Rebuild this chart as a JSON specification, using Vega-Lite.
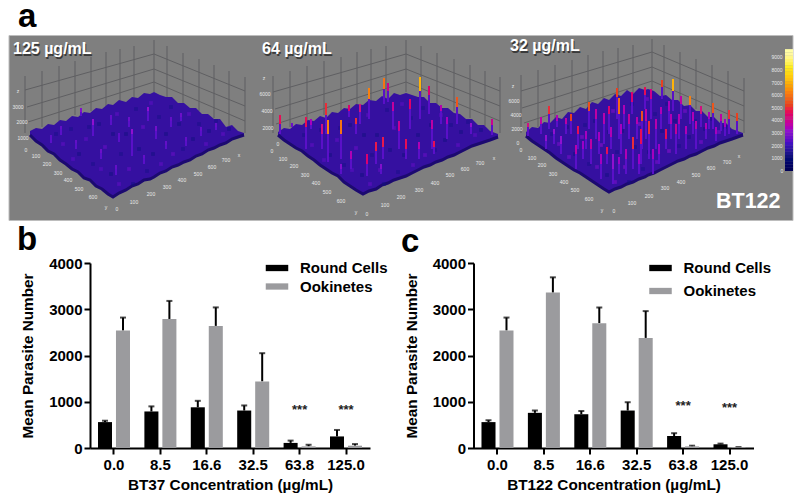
{"$schema":"https://vega.github.io/schema/vega-lite/v6.json","background":"white","padding":{"left":7.5,"top":0,"right":0,"bottom":0},"spacing":3,"bounds":"full",
"config":{"view":{"stroke":null},"font":"Liberation Sans","title":{"font":"Liberation Sans","fontWeight":"bold","fontSize":33,"anchor":"start","frame":"group","color":"black"},"axis":{"labelFont":"Liberation Sans","titleFont":"Liberation Sans","labelFontWeight":"bold","titleFontWeight":"bold","labelFontSize":15,"titleFontSize":15.3,"labelColor":"black","titleColor":"black","domainColor":"black","tickColor":"black","domainWidth":2,"tickWidth":2,"tickSize":6,"grid":false},"legend":{"labelFont":"Liberation Sans","labelFontWeight":"bold","labelFontSize":15,"labelColor":"black"}},
"datasets":{
"surface":[
{"p":1,"x":29,"t":132,"b":136},{"p":1,"x":35,"t":129,"b":142},{"p":1,"x":41,"t":130,"b":146},{"p":1,"x":47,"t":125,"b":152},{"p":1,"x":53,"t":126,"b":155},{"p":1,"x":59,"t":121,"b":161},{"p":1,"x":65,"t":122,"b":165},{"p":1,"x":71,"t":117,"b":170},{"p":1,"x":77,"t":118,"b":173},{"p":1,"x":83,"t":113,"b":179},{"p":1,"x":89,"t":114,"b":181},{"p":1,"x":95,"t":109,"b":187},{"p":1,"x":101,"t":110,"b":190},{"p":1,"x":107,"t":105,"b":195},{"p":1,"x":112,"t":106,"b":198},{"p":1,"x":118,"t":101,"b":194},{"p":1,"x":125,"t":103,"b":191},{"p":1,"x":131,"t":98,"b":187},{"p":1,"x":137,"t":99,"b":185},{"p":1,"x":143,"t":94,"b":181},{"p":1,"x":149,"t":95,"b":180},{"p":1,"x":153,"t":93,"b":178},{"p":1,"x":159,"t":96,"b":174},{"p":1,"x":165,"t":98,"b":172},{"p":1,"x":171,"t":98,"b":168},{"p":1,"x":177,"t":104,"b":166},{"p":1,"x":183,"t":104,"b":163},{"p":1,"x":189,"t":109,"b":161},{"p":1,"x":195,"t":109,"b":157},{"p":1,"x":201,"t":115,"b":155},{"p":1,"x":207,"t":115,"b":151},{"p":1,"x":213,"t":120,"b":149},{"p":1,"x":219,"t":120,"b":146},{"p":1,"x":225,"t":128,"b":144},{"p":1,"x":231,"t":126,"b":140},{"p":1,"x":237,"t":132,"b":138},{"p":1,"x":243,"t":134,"b":136},
{"p":2,"x":277,"t":133,"b":136},{"p":2,"x":283,"t":129,"b":141},{"p":2,"x":289,"t":130,"b":145},{"p":2,"x":295,"t":125,"b":149},{"p":2,"x":301,"t":126,"b":152},{"p":2,"x":307,"t":121,"b":157},{"p":2,"x":313,"t":122,"b":161},{"p":2,"x":319,"t":117,"b":166},{"p":2,"x":325,"t":119,"b":170},{"p":2,"x":331,"t":113,"b":174},{"p":2,"x":337,"t":114,"b":177},{"p":2,"x":343,"t":109,"b":183},{"p":2,"x":349,"t":110,"b":187},{"p":2,"x":355,"t":105,"b":191},{"p":2,"x":362,"t":106,"b":195},{"p":2,"x":368,"t":101,"b":192},{"p":2,"x":375,"t":102,"b":190},{"p":2,"x":381,"t":97,"b":186},{"p":2,"x":387,"t":100,"b":184},{"p":2,"x":393,"t":94,"b":181},{"p":2,"x":399,"t":96,"b":179},{"p":2,"x":405,"t":94,"b":177},{"p":2,"x":411,"t":96,"b":174},{"p":2,"x":417,"t":98,"b":171},{"p":2,"x":423,"t":98,"b":168},{"p":2,"x":429,"t":104,"b":166},{"p":2,"x":435,"t":104,"b":163},{"p":2,"x":441,"t":109,"b":161},{"p":2,"x":447,"t":109,"b":158},{"p":2,"x":453,"t":114,"b":156},{"p":2,"x":459,"t":115,"b":153},{"p":2,"x":465,"t":120,"b":150},{"p":2,"x":471,"t":120,"b":147},{"p":2,"x":477,"t":126,"b":145},{"p":2,"x":483,"t":126,"b":143},{"p":2,"x":489,"t":132,"b":141},{"p":2,"x":497,"t":135,"b":138},
{"p":3,"x":525,"t":133,"b":137},{"p":3,"x":531,"t":128,"b":142},{"p":3,"x":537,"t":129,"b":146},{"p":3,"x":543,"t":123,"b":150},{"p":3,"x":549,"t":124,"b":154},{"p":3,"x":555,"t":118,"b":159},{"p":3,"x":561,"t":120,"b":163},{"p":3,"x":567,"t":113,"b":167},{"p":3,"x":573,"t":114,"b":171},{"p":3,"x":579,"t":108,"b":174},{"p":3,"x":585,"t":110,"b":178},{"p":3,"x":591,"t":103,"b":182},{"p":3,"x":597,"t":105,"b":186},{"p":3,"x":603,"t":99,"b":190},{"p":3,"x":608,"t":101,"b":193},{"p":3,"x":614,"t":95,"b":190},{"p":3,"x":620,"t":97,"b":188},{"p":3,"x":626,"t":91,"b":185},{"p":3,"x":632,"t":95,"b":183},{"p":3,"x":638,"t":89,"b":180},{"p":3,"x":644,"t":91,"b":178},{"p":3,"x":647,"t":90,"b":176},{"p":3,"x":653,"t":92,"b":174},{"p":3,"x":659,"t":97,"b":171},{"p":3,"x":665,"t":96,"b":168},{"p":3,"x":671,"t":101,"b":165},{"p":3,"x":677,"t":101,"b":162},{"p":3,"x":683,"t":107,"b":160},{"p":3,"x":689,"t":106,"b":157},{"p":3,"x":695,"t":112,"b":155},{"p":3,"x":701,"t":112,"b":152},{"p":3,"x":707,"t":118,"b":149},{"p":3,"x":713,"t":118,"b":147},{"p":3,"x":719,"t":124,"b":144},{"p":3,"x":725,"t":124,"b":142},{"p":3,"x":731,"t":130,"b":140},{"p":3,"x":742,"t":134,"b":136}],
"dabs":[
{"x":55,"y":135,"v":1200},{"x":62,"y":145,"v":2400},{"x":70,"y":130,"v":1200},{"x":78,"y":155,"v":1100},{"x":85,"y":140,"v":2400},{"x":92,"y":165,"v":1200},{"x":98,"y":125,"v":1100},{"x":104,"y":148,"v":2500},{"x":110,"y":175,"v":1100},{"x":116,"y":115,"v":2400},{"x":120,"y":155,"v":1200},{"x":125,"y":135,"v":1100},{"x":128,"y":170,"v":2500},{"x":135,"y":110,"v":1200},{"x":138,"y":150,"v":1100},{"x":142,"y":128,"v":2500},{"x":146,"y":172,"v":1200},{"x":150,"y":104,"v":2300},{"x":152,"y":155,"v":1100},{"x":158,"y":118,"v":1200},{"x":160,"y":165,"v":2400},{"x":165,"y":135,"v":1100},{"x":170,"y":108,"v":1200},{"x":172,"y":155,"v":2500},{"x":178,"y":125,"v":1100},{"x":182,"y":150,"v":1200},{"x":188,"y":115,"v":2400},{"x":192,"y":140,"v":1100},{"x":198,"y":125,"v":1200},{"x":205,"y":145,"v":2400},{"x":208,"y":132,"v":1100},{"x":215,"y":122,"v":1200},{"x":222,"y":135,"v":2400},{"x":228,"y":130,"v":1100},{"x":100,"y":170,"v":2300},{"x":88,"y":128,"v":1200},{"x":112,"y":135,"v":1100},{"x":132,"y":185,"v":1100},{"x":118,"y":185,"v":2400},{"x":72,"y":160,"v":2300},
{"x":303,"y":136,"v":1200},{"x":311,"y":146,"v":2400},{"x":320,"y":131,"v":1200},{"x":329,"y":156,"v":1100},{"x":336,"y":141,"v":2400},{"x":343,"y":166,"v":1200},{"x":349,"y":126,"v":1100},{"x":355,"y":149,"v":2500},{"x":361,"y":176,"v":1100},{"x":367,"y":116,"v":2400},{"x":371,"y":156,"v":1200},{"x":376,"y":136,"v":1100},{"x":379,"y":171,"v":2500},{"x":386,"y":111,"v":1200},{"x":389,"y":151,"v":1100},{"x":393,"y":129,"v":2500},{"x":397,"y":173,"v":1200},{"x":401,"y":105,"v":2300},{"x":403,"y":156,"v":1100},{"x":410,"y":119,"v":1200},{"x":412,"y":166,"v":2400},{"x":417,"y":136,"v":1100},{"x":422,"y":109,"v":1200},{"x":424,"y":156,"v":2500},{"x":430,"y":126,"v":1100},{"x":434,"y":151,"v":1200},{"x":440,"y":116,"v":2400},{"x":444,"y":141,"v":1100},{"x":450,"y":126,"v":1200},{"x":457,"y":146,"v":2400},{"x":460,"y":133,"v":1100},{"x":467,"y":123,"v":1200},{"x":474,"y":136,"v":2400},{"x":480,"y":131,"v":1100},{"x":351,"y":171,"v":2300},{"x":339,"y":129,"v":1200},{"x":363,"y":136,"v":1100},{"x":383,"y":185,"v":1100},{"x":369,"y":185,"v":2400},{"x":323,"y":161,"v":2300},
{"x":551,"y":135,"v":1200},{"x":558,"y":145,"v":2800},{"x":566,"y":128,"v":1100},{"x":574,"y":155,"v":1100},{"x":581,"y":138,"v":2900},{"x":588,"y":165,"v":1200},{"x":594,"y":122,"v":1100},{"x":600,"y":146,"v":3000},{"x":606,"y":176,"v":1100},{"x":612,"y":112,"v":2800},{"x":616,"y":153,"v":1200},{"x":621,"y":132,"v":1100},{"x":624,"y":168,"v":3000},{"x":631,"y":105,"v":1200},{"x":634,"y":148,"v":1100},{"x":638,"y":125,"v":3000},{"x":642,"y":170,"v":1200},{"x":646,"y":100,"v":2700},{"x":648,"y":153,"v":1100},{"x":654,"y":115,"v":1200},{"x":656,"y":163,"v":2800},{"x":661,"y":132,"v":1100},{"x":666,"y":105,"v":1200},{"x":668,"y":152,"v":3000},{"x":674,"y":122,"v":1100},{"x":678,"y":147,"v":1200},{"x":684,"y":112,"v":2800},{"x":688,"y":138,"v":1100},{"x":694,"y":122,"v":1200},{"x":700,"y":143,"v":2800},{"x":704,"y":130,"v":1100},{"x":711,"y":120,"v":1200},{"x":718,"y":133,"v":2800},{"x":724,"y":128,"v":1100},{"x":596,"y":168,"v":2700},{"x":584,"y":126,"v":1200},{"x":608,"y":133,"v":1100},{"x":628,"y":183,"v":1100},{"x":614,"y":183,"v":2800},{"x":568,"y":158,"v":2700}],
"grid":[
{"x":24,"y":134,"x2":24,"y2":77},{"x":41,"y":128,"x2":41,"y2":72},{"x":58,"y":122,"x2":58,"y2":67},{"x":74,"y":116,"x2":74,"y2":62},{"x":90,"y":112,"x2":90,"y2":58},{"x":105,"y":108,"x2":105,"y2":53},{"x":119,"y":104,"x2":119,"y2":50},{"x":133,"y":100,"x2":133,"y2":47},{"x":153,"y":93,"x2":153,"y2":41},{"x":166,"y":98,"x2":166,"y2":47},{"x":182,"y":105,"x2":182,"y2":54},{"x":198,"y":112,"x2":198,"y2":60},{"x":213,"y":119,"x2":213,"y2":66},{"x":228,"y":127,"x2":228,"y2":72},{"x":244,"y":134,"x2":244,"y2":78},{"x":24,"y":91,"x2":153,"y2":55},{"x":26,"y":108,"x2":153,"y2":70},{"x":27,"y":123,"x2":153,"y2":83},{"x":153,"y":55,"x2":244,"y2":92},{"x":153,"y":70,"x2":244,"y2":107},{"x":153,"y":83,"x2":244,"y2":122},
{"x":272,"y":134,"x2":272,"y2":77},{"x":289,"y":128,"x2":289,"y2":72},{"x":306,"y":122,"x2":306,"y2":67},{"x":323,"y":116,"x2":323,"y2":62},{"x":340,"y":112,"x2":340,"y2":58},{"x":356,"y":108,"x2":356,"y2":53},{"x":370,"y":104,"x2":370,"y2":50},{"x":385,"y":100,"x2":385,"y2":47},{"x":405,"y":93,"x2":405,"y2":41},{"x":420,"y":98,"x2":420,"y2":47},{"x":436,"y":105,"x2":436,"y2":54},{"x":453,"y":112,"x2":453,"y2":60},{"x":469,"y":119,"x2":469,"y2":66},{"x":484,"y":127,"x2":484,"y2":72},{"x":499,"y":134,"x2":499,"y2":78},{"x":272,"y":93,"x2":405,"y2":55},{"x":274,"y":110,"x2":405,"y2":70},{"x":275,"y":125,"x2":405,"y2":83},{"x":405,"y":55,"x2":499,"y2":92},{"x":405,"y":70,"x2":499,"y2":107},{"x":405,"y":83,"x2":499,"y2":122},
{"x":520,"y":134,"x2":520,"y2":76},{"x":537,"y":128,"x2":537,"y2":71},{"x":554,"y":122,"x2":554,"y2":66},{"x":571,"y":116,"x2":571,"y2":61},{"x":587,"y":112,"x2":587,"y2":56},{"x":602,"y":108,"x2":602,"y2":52},{"x":617,"y":104,"x2":617,"y2":49},{"x":632,"y":100,"x2":632,"y2":46},{"x":651,"y":90,"x2":651,"y2":40},{"x":663,"y":96,"x2":663,"y2":46},{"x":679,"y":103,"x2":679,"y2":53},{"x":695,"y":110,"x2":695,"y2":60},{"x":711,"y":118,"x2":711,"y2":66},{"x":727,"y":126,"x2":727,"y2":72},{"x":743,"y":134,"x2":743,"y2":79},{"x":520,"y":92,"x2":651,"y2":53},{"x":521,"y":109,"x2":651,"y2":68},{"x":523,"y":124,"x2":651,"y2":82},{"x":651,"y":53,"x2":743,"y2":92},{"x":651,"y":68,"x2":743,"y2":107},{"x":651,"y":82,"x2":743,"y2":122}],
"spikes":[
{"x":92,"b":137,"m":126,"t":120,"v":3000},{"x":131,"b":157,"m":135,"t":130,"v":3000},{"x":147,"b":122,"m":112,"t":108,"v":3000},{"x":80,"b":117,"m":113,"t":109,"v":2800},{"x":60,"b":136,"m":130,"t":127,"v":2400},{"x":75,"b":150,"m":144,"t":141,"v":2400},{"x":100,"b":160,"m":154,"t":150,"v":2500},{"x":115,"b":176,"m":170,"t":166,"v":2400},{"x":128,"b":128,"m":122,"t":118,"v":2500},{"x":110,"b":126,"m":120,"t":116,"v":2400},{"x":155,"b":140,"m":132,"t":127,"v":2600},{"x":170,"b":128,"m":122,"t":118,"v":2400},{"x":180,"b":122,"m":118,"t":114,"v":2500},{"x":165,"b":150,"m":146,"t":142,"v":2400},{"x":185,"b":147,"m":142,"t":138,"v":2400},{"x":200,"b":137,"m":132,"t":128,"v":2400},{"x":143,"b":165,"m":159,"t":156,"v":2400},{"x":50,"b":144,"m":140,"t":136,"v":2300},{"x":215,"b":131,"m":128,"t":124,"v":2400},{"x":118,"b":143,"m":138,"t":134,"v":2300},
{"x":279,"b":135,"m":125,"t":116,"v":4500},{"x":291,"b":128,"m":128,"t":124,"v":2500},{"x":305,"b":150,"m":128,"t":118,"v":4500},{"x":325,"b":135,"m":116,"t":104,"v":4800},{"x":327,"b":163,"m":135,"t":121,"v":6000},{"x":340,"b":160,"m":135,"t":121,"v":5800},{"x":321,"b":150,"m":135,"t":125,"v":4000},{"x":348,"b":118,"m":112,"t":106,"v":4200},{"x":355,"b":135,"m":125,"t":119,"v":4800},{"x":359,"b":125,"m":113,"t":105,"v":4000},{"x":368,"b":120,"m":100,"t":89,"v":6000},{"x":383,"b":105,"m":90,"t":79,"v":5800},{"x":387,"b":103,"m":92,"t":84,"v":3800},{"x":366,"b":177,"m":165,"t":155,"v":4200},{"x":375,"b":165,"m":152,"t":143,"v":4600},{"x":382,"b":160,"m":148,"t":138,"v":4600},{"x":392,"b":130,"m":112,"t":103,"v":3600},{"x":398,"b":150,"m":132,"t":122,"v":3700},{"x":409,"b":130,"m":110,"t":100,"v":4300},{"x":419,"b":120,"m":92,"t":78,"v":6800},{"x":428,"b":115,"m":96,"t":87,"v":4200},{"x":431,"b":150,"m":130,"t":121,"v":3500},{"x":440,"b":125,"m":112,"t":106,"v":3400},{"x":456,"b":125,"m":108,"t":98,"v":5300},{"x":446,"b":140,"m":125,"t":118,"v":3200},{"x":433,"b":155,"m":148,"t":142,"v":4500},{"x":418,"b":160,"m":150,"t":143,"v":3300},{"x":491,"b":136,"m":126,"t":120,"v":3800},{"x":405,"b":160,"m":150,"t":140,"v":4500},{"x":350,"b":170,"m":160,"t":152,"v":3300},{"x":310,"b":130,"m":126,"t":120,"v":3200},{"x":470,"b":135,"m":128,"t":124,"v":3000},{"x":380,"b":175,"m":170,"t":165,"v":2800},{"x":340,"b":175,"m":170,"t":165,"v":2800},
{"x":527,"b":137,"m":128,"t":124,"v":4000},{"x":540,"b":135,"m":125,"t":118,"v":3500},{"x":548,"b":130,"m":115,"t":107,"v":4800},{"x":556,"b":128,"m":122,"t":116,"v":3300},{"x":565,"b":135,"m":125,"t":119,"v":3500},{"x":570,"b":135,"m":122,"t":115,"v":5000},{"x":577,"b":150,"m":135,"t":127,"v":4500},{"x":588,"b":130,"m":112,"t":103,"v":5200},{"x":595,"b":140,"m":120,"t":110,"v":3500},{"x":603,"b":145,"m":125,"t":114,"v":3400},{"x":608,"b":135,"m":115,"t":107,"v":4200},{"x":616,"b":120,"m":98,"t":89,"v":5000},{"x":618,"b":140,"m":115,"t":99,"v":5600},{"x":631,"b":115,"m":103,"t":93,"v":4200},{"x":641,"b":150,"m":122,"t":112,"v":5200},{"x":644,"b":110,"m":96,"t":88,"v":4500},{"x":650,"b":120,"m":100,"t":90,"v":3900},{"x":661,"b":100,"m":88,"t":81,"v":5000},{"x":672,"b":112,"m":92,"t":80,"v":6800},{"x":680,"b":120,"m":105,"t":97,"v":3500},{"x":689,"b":125,"m":106,"t":97,"v":6000},{"x":700,"b":128,"m":115,"t":107,"v":4000},{"x":712,"b":130,"m":114,"t":104,"v":5300},{"x":720,"b":132,"m":122,"t":115,"v":3500},{"x":728,"b":135,"m":120,"t":111,"v":4800},{"x":736,"b":135,"m":122,"t":114,"v":5000},{"x":560,"b":155,"m":145,"t":137,"v":3000},{"x":575,"b":170,"m":155,"t":146,"v":3400},{"x":590,"b":165,"m":150,"t":140,"v":3500},{"x":600,"b":180,"m":165,"t":155,"v":3200},{"x":606,"b":165,"m":155,"t":148,"v":4500},{"x":612,"b":185,"m":170,"t":155,"v":3000},{"x":625,"b":175,"m":160,"t":150,"v":3300},{"x":632,"b":170,"m":150,"t":138,"v":4800},{"x":640,"b":165,"m":145,"t":130,"v":4500},{"x":648,"b":160,"m":135,"t":122,"v":4800},{"x":655,"b":150,"m":130,"t":120,"v":3400},{"x":665,"b":150,"m":140,"t":130,"v":4500},{"x":675,"b":155,"m":135,"t":125,"v":3600},{"x":685,"b":150,"m":135,"t":127,"v":3300},{"x":695,"b":150,"m":130,"t":122,"v":3400},{"x":705,"b":140,"m":130,"t":124,"v":3300},{"x":715,"b":142,"m":135,"t":128,"v":3200},{"x":585,"b":150,"m":140,"t":132,"v":3200},{"x":620,"b":155,"m":135,"t":125,"v":3200},{"x":628,"b":140,"m":125,"t":115,"v":3600},{"x":660,"b":130,"m":115,"t":108,"v":3300},{"x":545,"b":150,"m":142,"t":136,"v":3000},{"x":670,"b":140,"m":125,"t":115,"v":3300},{"x":652,"b":175,"m":160,"t":150,"v":3200},{"x":553,"b":145,"m":135,"t":130,"v":3000},{"x":582,"b":160,"m":150,"t":142,"v":3100},{"x":598,"b":155,"m":142,"t":133,"v":3200},{"x":610,"b":150,"m":138,"t":128,"v":3300},{"x":623,"b":130,"m":115,"t":106,"v":3300},{"x":636,"b":140,"m":125,"t":118,"v":3400},{"x":645,"b":140,"m":122,"t":110,"v":3500},{"x":658,"b":165,"m":155,"t":145,"v":3100},{"x":668,"b":125,"m":112,"t":102,"v":3200},{"x":678,"b":140,"m":125,"t":115,"v":3300},{"x":692,"b":135,"m":122,"t":113,"v":3300},{"x":708,"b":130,"m":120,"t":113,"v":3200},{"x":724,"b":137,"m":128,"t":120,"v":3200},{"x":618,"b":175,"m":165,"t":158,"v":3100},{"x":638,"b":175,"m":165,"t":155,"v":3100}],
"cbar":[{"x":788,"v":0,"y":172,"y2":168.6},{"x":788,"v":250,"y":168.8,"y2":165.4},{"x":788,"v":500,"y":165.6,"y2":162.2},{"x":788,"v":750,"y":162.4,"y2":159},{"x":788,"v":1000,"y":159.2,"y2":155.8},{"x":788,"v":1250,"y":156,"y2":152.6},{"x":788,"v":1500,"y":152.8,"y2":149.4},{"x":788,"v":1750,"y":149.6,"y2":146.2},{"x":788,"v":2000,"y":146.4,"y2":143},{"x":788,"v":2250,"y":143.2,"y2":139.8},{"x":788,"v":2500,"y":140,"y2":136.6},{"x":788,"v":2750,"y":136.8,"y2":133.4},{"x":788,"v":3000,"y":133.6,"y2":130.2},{"x":788,"v":3250,"y":130.4,"y2":127},{"x":788,"v":3500,"y":127.2,"y2":123.8},{"x":788,"v":3750,"y":124,"y2":120.6},{"x":788,"v":4000,"y":120.8,"y2":117.4},{"x":788,"v":4250,"y":117.6,"y2":114.2},{"x":788,"v":4500,"y":114.4,"y2":111},{"x":788,"v":4750,"y":111.2,"y2":107.8},{"x":788,"v":5000,"y":108,"y2":104.6},{"x":788,"v":5250,"y":104.8,"y2":101.4},{"x":788,"v":5500,"y":101.6,"y2":98.2},{"x":788,"v":5750,"y":98.4,"y2":95},{"x":788,"v":6000,"y":95.2,"y2":91.8},{"x":788,"v":6250,"y":92,"y2":88.6},{"x":788,"v":6500,"y":88.8,"y2":85.4},{"x":788,"v":6750,"y":85.6,"y2":82.2},{"x":788,"v":7000,"y":82.4,"y2":79},{"x":788,"v":7250,"y":79.2,"y2":75.8},{"x":788,"v":7500,"y":76,"y2":72.6},{"x":788,"v":7750,"y":72.8,"y2":69.4},{"x":788,"v":8000,"y":69.6,"y2":66.2},{"x":788,"v":8250,"y":66.4,"y2":63},{"x":788,"v":8500,"y":63.2,"y2":59.8},{"x":788,"v":8750,"y":60,"y2":56.6},{"x":788,"v":9000,"y":56.8,"y2":53.4},{"x":788,"v":9250,"y":53.6,"y2":50.2},{"x":788,"v":9500,"y":50.4,"y2":50}],
"tiny":[
{"x":17,"y":92,"s":"z"},{"x":17,"y":108,"s":"3000"},{"x":21,"y":123,"s":"2000"},{"x":22,"y":139,"s":"1000"},{"x":25,"y":151,"s":"0"},{"x":35,"y":157,"s":"100"},{"x":46,"y":165,"s":"200"},{"x":57,"y":174,"s":"300"},{"x":67,"y":181,"s":"400"},{"x":78,"y":190,"s":"500"},{"x":92,"y":198,"s":"600"},{"x":105,"y":208,"s":"y"},{"x":116,"y":210,"s":"0"},{"x":133,"y":203,"s":"100"},{"x":150,"y":195,"s":"200"},{"x":166,"y":188,"s":"300"},{"x":181,"y":181,"s":"400"},{"x":197,"y":175,"s":"500"},{"x":211,"y":168,"s":"600"},{"x":225,"y":161,"s":"700"},{"x":238,"y":156,"s":"x"},
{"x":263,"y":79,"s":"z"},{"x":264,"y":95,"s":"6000"},{"x":266,"y":112,"s":"4000"},{"x":267,"y":129,"s":"2000"},{"x":277,"y":145,"s":"0"},{"x":271,"y":152,"s":"0"},{"x":282,"y":160,"s":"100"},{"x":293,"y":167,"s":"200"},{"x":304,"y":176,"s":"300"},{"x":315,"y":184,"s":"400"},{"x":326,"y":193,"s":"500"},{"x":340,"y":202,"s":"600"},{"x":355,"y":213,"s":"y"},{"x":366,"y":215,"s":"0"},{"x":384,"y":206,"s":"100"},{"x":400,"y":198,"s":"200"},{"x":418,"y":191,"s":"300"},{"x":434,"y":184,"s":"400"},{"x":449,"y":176,"s":"500"},{"x":464,"y":170,"s":"600"},{"x":479,"y":164,"s":"700"},{"x":493,"y":159,"s":"x"},
{"x":512,"y":87,"s":"z"},{"x":513,"y":102,"s":"6000"},{"x":515,"y":116,"s":"4000"},{"x":516,"y":130,"s":"2000"},{"x":517,"y":144,"s":"0"},{"x":520,"y":151,"s":"0"},{"x":531,"y":159,"s":"100"},{"x":541,"y":166,"s":"200"},{"x":552,"y":175,"s":"300"},{"x":563,"y":183,"s":"400"},{"x":574,"y":191,"s":"500"},{"x":588,"y":200,"s":"600"},{"x":601,"y":211,"s":"y"},{"x":613,"y":212,"s":"0"},{"x":631,"y":204,"s":"100"},{"x":648,"y":197,"s":"200"},{"x":664,"y":189,"s":"300"},{"x":680,"y":183,"s":"400"},{"x":695,"y":176,"s":"500"},{"x":710,"y":169,"s":"600"},{"x":726,"y":163,"s":"700"},{"x":738,"y":157,"s":"x"},
{"x":776,"y":58,"s":"9000"},{"x":776,"y":71,"s":"8000"},{"x":776,"y":84,"s":"7000"},{"x":776,"y":96,"s":"6000"},{"x":776,"y":109,"s":"5000"},{"x":776,"y":121,"s":"4000"},{"x":776,"y":134,"s":"3000"},{"x":776,"y":147,"s":"2000"},{"x":776,"y":159,"s":"1000"},{"x":781,"y":172,"s":"0"}],
"big":[{"x":12,"y":50,"s":"125 µg/mL"},{"x":261,"y":50,"s":"64 µg/mL"},{"x":509,"y":47,"s":"32 µg/mL"}],
"label":[{"x":715,"y":203,"s":"BT122"}],
"b":[{"c":"0.0","s":"Round Cells","v":560,"u":590},{"c":"0.0","s":"Ookinetes","v":2540,"u":2820},{"c":"8.5","s":"Round Cells","v":790,"u":900},{"c":"8.5","s":"Ookinetes","v":2790,"u":3180},{"c":"16.6","s":"Round Cells","v":880,"u":1020},{"c":"16.6","s":"Ookinetes","v":2640,"u":3040},{"c":"32.5","s":"Round Cells","v":810,"u":920},{"c":"32.5","s":"Ookinetes","v":1440,"u":2050},{"c":"63.8","s":"Round Cells","v":110,"u":160},{"c":"63.8","s":"Ookinetes","v":35,"u":70},{"c":"125.0","s":"Round Cells","v":250,"u":390},{"c":"125.0","s":"Ookinetes","v":50,"u":85}],
"c":[{"c":"0.0","s":"Round Cells","v":560,"u":600},{"c":"0.0","s":"Ookinetes","v":2540,"u":2820},{"c":"8.5","s":"Round Cells","v":760,"u":810},{"c":"8.5","s":"Ookinetes","v":3360,"u":3690},{"c":"16.6","s":"Round Cells","v":730,"u":800},{"c":"16.6","s":"Ookinetes","v":2700,"u":3040},{"c":"32.5","s":"Round Cells","v":810,"u":990},{"c":"32.5","s":"Ookinetes","v":2380,"u":2960},{"c":"63.8","s":"Round Cells","v":260,"u":320},{"c":"63.8","s":"Ookinetes","v":35,"u":50},{"c":"125.0","s":"Round Cells","v":80,"u":95},{"c":"125.0","s":"Ookinetes","v":15,"u":20}],
"sb":[{"c":"63.8","y":830,"s":"***"},{"c":"125.0","y":830,"s":"***"}],
"sc":[{"c":"63.8","y":900,"s":"***"},{"c":"125.0","y":860,"s":"***"}],
"none":[{"n":1}]
},
"vconcat":[
{"width":784,"height":185,"title":{"text":"a","dx":9.5,"offset":1},
"layer":[
{"data":{"name":"grid"},"mark":{"type":"rule","color":"#5f5f62","strokeWidth":1},"encoding":{"x":{"field":"x","type":"quantitative","scale":{"domain":[7.5,791.5],"nice":false,"zero":false},"axis":null},"y":{"field":"y","type":"quantitative","scale":{"domain":[221,36],"nice":false,"zero":false},"axis":null},"x2":{"field":"x2"},"y2":{"field":"y2"}}},
{"data":{"name":"surface"},"mark":{"type":"area","color":"#3510a0","opacity":1},"encoding":{"x":{"field":"x","type":"quantitative"},"y":{"field":"t","type":"quantitative"},"y2":{"field":"b"},"detail":{"field":"p"}}},
{"data":{"name":"surface"},"mark":{"type":"line","color":"#1c0a70","strokeWidth":3},"encoding":{"x":{"field":"x","type":"quantitative"},"y":{"field":"b","type":"quantitative"},"detail":{"field":"p"}}},
{"data":{"name":"dabs"},"mark":{"type":"point","shape":"square","filled":true,"size":14,"opacity":0.55},"encoding":{"x":{"field":"x","type":"quantitative"},"y":{"field":"y","type":"quantitative"},"color":{"field":"v","type":"quantitative","legend":null}}},
{"data":{"name":"spikes"},"mark":{"type":"rule","color":"#5a10c8","strokeWidth":2},"encoding":{"x":{"field":"x","type":"quantitative"},"y":{"field":"b","type":"quantitative"},"y2":{"field":"t"}}},
{"data":{"name":"spikes"},"mark":{"type":"rule","strokeWidth":2},"encoding":{"x":{"field":"x","type":"quantitative"},"y":{"field":"m","type":"quantitative"},"y2":{"field":"t"},"color":{"field":"v","type":"quantitative","legend":null,"scale":{"domain":[0,1000,2000,3000,4000,5000,6000,7000,8000,9000,9500],"range":["#000000","#10107a","#4010c0","#9010d0","#d01080","#e84020","#f88010","#ffc010","#ffee20","#fff8a0","#ffffff"]}}}},
{"data":{"name":"cbar"},"mark":{"type":"rule","strokeWidth":8},"encoding":{"x":{"field":"x","type":"quantitative"},"y":{"field":"y","type":"quantitative"},"y2":{"field":"y2"},"color":{"field":"v","type":"quantitative","legend":null}}},
{"data":{"name":"tiny"},"mark":{"type":"text","color":"#e8e8e8","fontSize":5,"align":"center"},"encoding":{"x":{"field":"x","type":"quantitative"},"y":{"field":"y","type":"quantitative"},"text":{"field":"s"}}},
{"data":{"name":"big"},"mark":{"type":"text","color":"#3a3a3a","fontSize":16,"fontWeight":"bold","align":"left","dx":1,"dy":1.5},"encoding":{"x":{"field":"x","type":"quantitative"},"y":{"field":"y","type":"quantitative"},"text":{"field":"s"}}},
{"data":{"name":"big"},"mark":{"type":"text","color":"white","fontSize":16,"fontWeight":"bold","align":"left"},"encoding":{"x":{"field":"x","type":"quantitative"},"y":{"field":"y","type":"quantitative"},"text":{"field":"s"}}},
{"data":{"name":"label"},"mark":{"type":"text","color":"white","fontSize":21.5,"fontWeight":"bold","align":"left"},"encoding":{"x":{"field":"x","type":"quantitative"},"y":{"field":"y","type":"quantitative"},"text":{"field":"s"}}}
],"resolve":{"scale":{"color":"shared"}},"view":{"fill":"#7f7f7f","stroke":"#bdbdbd"}},
{"spacing":7.5,"resolve":{"scale":{"color":"independent"},"legend":{"color":"independent"}},"hconcat":[
{"width":1,"height":1,"data":{"name":"none"},"mark":{"type":"point","opacity":0,"size":1},"encoding":{}},
{"width":280,"height":185,"title":{"text":"b","dx":-73,"offset":-3},
"layer":[
{"data":{"name":"b"},"mark":{"type":"rule","color":"black","strokeWidth":2},"encoding":{"x":{"field":"c","type":"ordinal","sort":["0.0","8.5","16.6","32.5","63.8","125.0"],"scale":{"paddingInner":0.31,"paddingOuter":0.172},"axis":{"labelAngle":0,"title":"BT37 Concentration (µg/mL)","labelPadding":3,"titlePadding":5}},"xOffset":{"field":"s","sort":["Round Cells","Ookinetes"],"scale":{"paddingInner":0.22}},"y":{"field":"v","type":"quantitative","scale":{"domain":[0,4000],"nice":false},"axis":{"values":[0,1000,2000,3000,4000],"format":"d","title":"Mean Parasite Number","labelPadding":2,"titlePadding":13}},"y2":{"field":"u"}}},
{"data":{"name":"b"},"mark":{"type":"tick","color":"black","size":6,"thickness":2},"encoding":{"x":{"field":"c","type":"ordinal","sort":["0.0","8.5","16.6","32.5","63.8","125.0"]},"xOffset":{"field":"s","sort":["Round Cells","Ookinetes"]},"y":{"field":"u","type":"quantitative"}}},
{"data":{"name":"b"},"mark":{"type":"bar"},"encoding":{"x":{"field":"c","type":"ordinal","sort":["0.0","8.5","16.6","32.5","63.8","125.0"]},"xOffset":{"field":"s","sort":["Round Cells","Ookinetes"]},"y":{"field":"v","type":"quantitative"},"color":{"field":"s","type":"nominal","sort":["Round Cells","Ookinetes"],"scale":{"domain":["Round Cells","Ookinetes"],"range":["#000000","#9b9b9e"]},"legend":{"title":null,"orient":"none","legendX":173.3,"legendY":-8.7,"padding":4.7,"symbolType":"M-1.25,-0.35H1.25V0.35H-1.25Z","symbolSize":324,"symbolStrokeWidth":0,"rowPadding":1.5,"labelOffset":14}}}},
{"data":{"name":"sb"},"mark":{"type":"text","fontWeight":"bold","fontSize":13,"color":"#222"},"encoding":{"x":{"field":"c","type":"ordinal","sort":["0.0","8.5","16.6","32.5","63.8","125.0"]},"y":{"field":"y","type":"quantitative"},"text":{"field":"s"}}}
]},
{"width":280,"height":185,"title":{"text":"c","dx":-72.5,"offset":-3},
"layer":[
{"data":{"name":"c"},"mark":{"type":"rule","color":"black","strokeWidth":2},"encoding":{"x":{"field":"c","type":"ordinal","sort":["0.0","8.5","16.6","32.5","63.8","125.0"],"scale":{"paddingInner":0.31,"paddingOuter":0.172},"axis":{"labelAngle":0,"title":"BT122 Concentration (µg/mL)","labelPadding":3,"titlePadding":5}},"xOffset":{"field":"s","sort":["Round Cells","Ookinetes"],"scale":{"paddingInner":0.22}},"y":{"field":"v","type":"quantitative","scale":{"domain":[0,4000],"nice":false},"axis":{"values":[0,1000,2000,3000,4000],"format":"d","title":"Mean Parasite Number","labelPadding":2,"titlePadding":13}},"y2":{"field":"u"}}},
{"data":{"name":"c"},"mark":{"type":"tick","color":"black","size":6,"thickness":2},"encoding":{"x":{"field":"c","type":"ordinal","sort":["0.0","8.5","16.6","32.5","63.8","125.0"]},"xOffset":{"field":"s","sort":["Round Cells","Ookinetes"]},"y":{"field":"u","type":"quantitative"}}},
{"data":{"name":"c"},"mark":{"type":"bar"},"encoding":{"x":{"field":"c","type":"ordinal","sort":["0.0","8.5","16.6","32.5","63.8","125.0"]},"xOffset":{"field":"s","sort":["Round Cells","Ookinetes"]},"y":{"field":"v","type":"quantitative"},"color":{"field":"s","type":"nominal","sort":["Round Cells","Ookinetes"],"scale":{"domain":["Round Cells","Ookinetes"],"range":["#000000","#9b9b9e"]},"legend":{"title":null,"orient":"none","legendX":178,"legendY":-4,"symbolType":"M-1.25,-0.35H1.25V0.35H-1.25Z","symbolSize":324,"symbolStrokeWidth":0,"rowPadding":6,"labelOffset":14}}}},
{"data":{"name":"sc"},"mark":{"type":"text","fontWeight":"bold","fontSize":13,"color":"#222"},"encoding":{"x":{"field":"c","type":"ordinal","sort":["0.0","8.5","16.6","32.5","63.8","125.0"]},"y":{"field":"y","type":"quantitative"},"text":{"field":"s"}}}
]}
]}
]}
